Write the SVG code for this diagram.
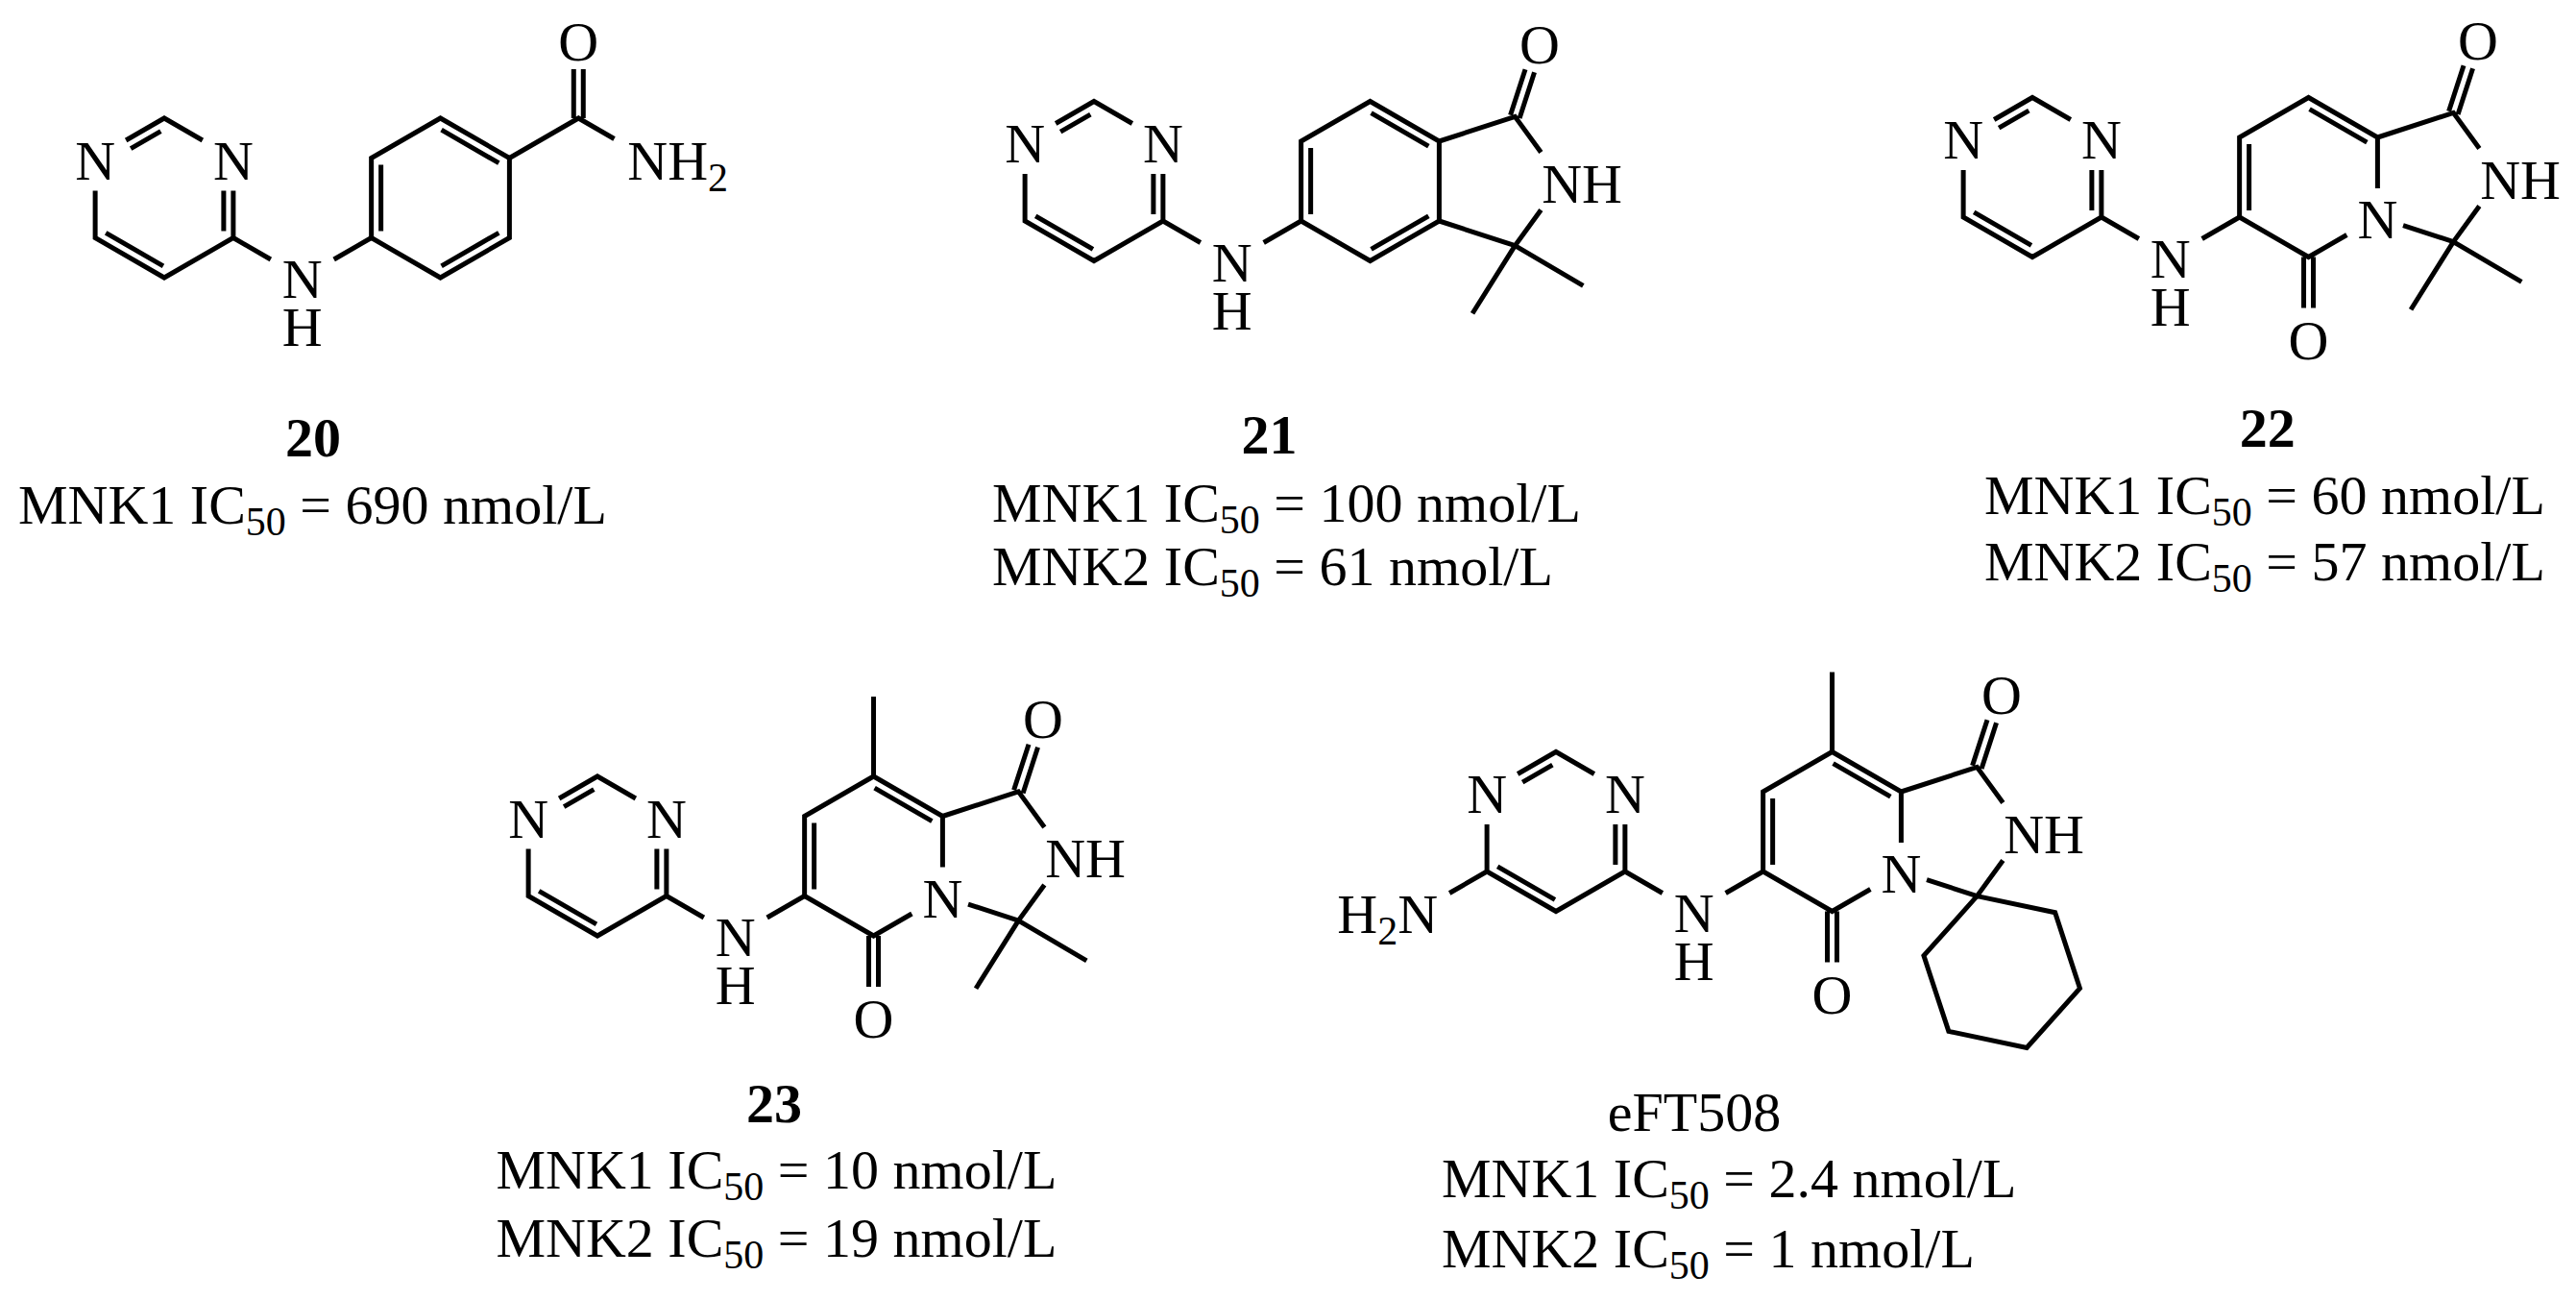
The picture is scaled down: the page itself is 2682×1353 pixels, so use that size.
<svg xmlns="http://www.w3.org/2000/svg" width="2682" height="1353" viewBox="0 0 2682 1353">
<style>
.b{stroke:#000;stroke-width:5;fill:none;stroke-linejoin:miter;stroke-linecap:butt}
.t{font-family:"Liberation Serif","Times New Roman",serif;font-size:58px;fill:#000}
.m{text-anchor:middle}
.e{text-anchor:end}
.bd{font-weight:bold}
.s{font-size:42px}
</style>
<rect width="2682" height="1353" fill="#fff"/>

<!-- Compound 20 -->
<g id="cmpd20">
<g transform="translate(171,206)">
<path class="b" d="M-39.84,-60 L0,-83 L39.84,-60 M-71.88,-7.5 L-71.88,41.5 L0,83 L71.88,41.5 L71.88,-7.5 M-3.66,-69.34 L-34.84,-51.34 M-60.82,36.34 L-1.06,70.84 M61.88,34.5 L61.88,-7.5 M71.88,41.5 L110.85,64 M176.67,64 L215.64,41.5"/>
<path class="b" d="M215.64,41.5 L215.64,-41.5 L287.52,-83 L359.4,-41.5 L359.4,41.5 L287.52,83 Z M225.64,-34.5 L225.64,34.5 M288.58,-70.84 L348.34,-36.34 M348.34,36.34 L288.58,70.84"/>
<path class="b" d="M359.4,-41.5 L431.28,-83 L468.52,-61.5 M426.28,-83 L426.28,-134 M436.28,-83 L436.28,-134"/>
<text class="t m" x="-71.88" y="-19.5">N</text>
<text class="t m" x="71.88" y="-19.5">N</text>
<text class="t m" x="143.76" y="104">N<tspan x="143.76" dy="50">H</tspan></text>
<text class="t m" x="431.28" y="-143">O</text>
<text class="t" x="482.26" y="-19.5">NH<tspan class="s" dy="12">2</tspan></text>
</g>
<text class="t m bd" x="326" y="475">20</text>
<text class="t" x="19" y="544.6">MNK1 IC<tspan class="s" dy="12">50</tspan><tspan dy="-12"> = 690 nmol/L</tspan></text>
</g>

<!-- Compound 21 -->
<g id="cmpd21">
<g transform="translate(1139,188.5)">
<path class="b" d="M-39.84,-60 L0,-83 L39.84,-60 M-71.88,-7.5 L-71.88,41.5 L0,83 L71.88,41.5 L71.88,-7.5 M-3.66,-69.34 L-34.84,-51.34 M-60.82,36.34 L-1.06,70.84 M61.88,34.5 L61.88,-7.5 M71.88,41.5 L110.85,64 M176.67,64 L215.64,41.5"/>
<path class="b" d="M215.64,41.5 L215.64,-41.5 L287.52,-83 L359.4,-41.5 L359.4,41.5 L287.52,83 Z M225.64,-34.5 L225.64,34.5 M288.58,-70.84 L348.34,-36.34 M348.34,36.34 L288.58,70.84"/>
<path class="b" d="M359.4,-41.5 L438.34,-67.15 L465.39,-29.94 M465.37,29.93 L438.34,67.15 L359.4,41.5 M443.1,-65.6 L458.55,-113.15 M433.58,-68.7 L449.03,-116.25 M438.34,67.15 L394.04,137.75 M438.34,67.15 L509.34,108.85"/>
<text class="t m" x="-71.88" y="-19.5">N</text>
<text class="t m" x="71.88" y="-19.5">N</text>
<text class="t m" x="143.76" y="104">N<tspan x="143.76" dy="50">H</tspan></text>
<text class="t m" x="464" y="-123">O</text>
<text class="t" x="466.23" y="22">NH</text>
</g>
<text class="t m bd" x="1321.6" y="471.5">21</text>
<text class="t" x="1033" y="543">MNK1 IC<tspan class="s" dy="12">50</tspan><tspan dy="-12"> = 100 nmol/L</tspan></text>
<text class="t" x="1033" y="609">MNK2 IC<tspan class="s" dy="12">50</tspan><tspan dy="-12"> = 61 nmol/L</tspan></text>
</g>

<!-- Compound 22 -->
<g id="cmpd22">
<g transform="translate(2116,184.5)">
<path class="b" d="M-39.84,-60 L0,-83 L39.84,-60 M-71.88,-7.5 L-71.88,41.5 L0,83 L71.88,41.5 L71.88,-7.5 M-3.66,-69.34 L-34.84,-51.34 M-60.82,36.34 L-1.06,70.84 M61.88,34.5 L61.88,-7.5 M71.88,41.5 L110.85,64 M176.67,64 L215.64,41.5"/>
<path class="b" d="M359.4,11.5 L359.4,-41.5 L287.52,-83 L215.64,-41.5 L215.64,41.5 L287.52,83 L327.36,60 M225.64,-34.5 L225.64,34.5 M288.58,-70.84 L348.34,-36.34 M282.52,83 L282.52,136 M292.52,83 L292.52,136"/>
<path class="b" d="M359.4,-41.5 L438.34,-67.15 L465.39,-29.94 M465.37,29.93 L438.34,67.15 L386.03,50.15 M443.1,-65.6 L458.55,-113.15 M433.58,-68.7 L449.03,-116.25 M438.34,67.15 L394.04,137.75 M438.34,67.15 L509.34,108.85"/>
<text class="t m" x="-71.88" y="-19.5">N</text>
<text class="t m" x="71.88" y="-19.5">N</text>
<text class="t m" x="143.76" y="104">N<tspan x="143.76" dy="50">H</tspan></text>
<text class="t m" x="359.4" y="63.5">N</text>
<text class="t m" x="287.52" y="189">O</text>
<text class="t m" x="464" y="-123">O</text>
<text class="t" x="466.23" y="22">NH</text>
</g>
<text class="t m bd" x="2360.8" y="465">22</text>
<text class="t" x="2066" y="534.5">MNK1 IC<tspan class="s" dy="12">50</tspan><tspan dy="-12"> = 60 nmol/L</tspan></text>
<text class="t" x="2066" y="604">MNK2 IC<tspan class="s" dy="12">50</tspan><tspan dy="-12"> = 57 nmol/L</tspan></text>
</g>

<!-- Compound 23 -->
<g id="cmpd23">
<g transform="translate(622,891)">
<path class="b" d="M-39.84,-60 L0,-83 L39.84,-60 M-71.88,-7.5 L-71.88,41.5 L0,83 L71.88,41.5 L71.88,-7.5 M-3.66,-69.34 L-34.84,-51.34 M-60.82,36.34 L-1.06,70.84 M61.88,34.5 L61.88,-7.5 M71.88,41.5 L110.85,64 M176.67,64 L215.64,41.5"/>
<path class="b" d="M359.4,11.5 L359.4,-41.5 L287.52,-83 L215.64,-41.5 L215.64,41.5 L287.52,83 L327.36,60 M225.64,-34.5 L225.64,34.5 M288.58,-70.84 L348.34,-36.34 M282.52,83 L282.52,136 M292.52,83 L292.52,136 M287.52,-83 L287.52,-166"/>
<path class="b" d="M359.4,-41.5 L438.34,-67.15 L465.39,-29.94 M465.37,29.93 L438.34,67.15 L386.03,50.15 M443.1,-65.6 L458.55,-113.15 M433.58,-68.7 L449.03,-116.25 M438.34,67.15 L394.04,137.75 M438.34,67.15 L509.34,108.85"/>
<text class="t m" x="-71.88" y="-19.5">N</text>
<text class="t m" x="71.88" y="-19.5">N</text>
<text class="t m" x="143.76" y="104">N<tspan x="143.76" dy="50">H</tspan></text>
<text class="t m" x="359.4" y="63.5">N</text>
<text class="t m" x="287.52" y="189">O</text>
<text class="t m" x="464" y="-123">O</text>
<text class="t" x="466.23" y="22">NH</text>
</g>
<text class="t m bd" x="806" y="1168">23</text>
<text class="t" x="516.5" y="1237">MNK1 IC<tspan class="s" dy="12">50</tspan><tspan dy="-12"> = 10 nmol/L</tspan></text>
<text class="t" x="516.5" y="1307.5">MNK2 IC<tspan class="s" dy="12">50</tspan><tspan dy="-12"> = 19 nmol/L</tspan></text>
</g>

<!-- eFT508 -->
<g id="eFT508">
<g transform="translate(1620,865.5)">
<path class="b" d="M-39.84,-60 L0,-83 L39.84,-60 M-71.88,-7.5 L-71.88,41.5 L0,83 L71.88,41.5 L71.88,-7.5 M-3.66,-69.34 L-34.84,-51.34 M-60.82,36.34 L-1.06,70.84 M61.88,34.5 L61.88,-7.5 M71.88,41.5 L110.85,64 M176.67,64 L215.64,41.5 M-71.88,41.5 L-110.85,64"/>
<path class="b" d="M359.4,11.5 L359.4,-41.5 L287.52,-83 L215.64,-41.5 L215.64,41.5 L287.52,83 L327.36,60 M225.64,-34.5 L225.64,34.5 M288.58,-70.84 L348.34,-36.34 M282.52,83 L282.52,136 M292.52,83 L292.52,136 M287.52,-83 L287.52,-166"/>
<path class="b" d="M359.4,-41.5 L438.34,-67.15 L465.39,-29.94 M465.37,29.93 L438.34,67.15 L386.03,50.15 M443.1,-65.6 L458.55,-113.15 M433.58,-68.7 L449.03,-116.25"/>
<polygon class="b" points="438.34,67.15 519.64,84.25 545.44,163.05 490.14,224.95 408.84,207.85 382.94,129.15"/>
<text class="t m" x="-71.88" y="-19.5">N</text>
<text class="t m" x="71.88" y="-19.5">N</text>
<text class="t e" x="-122.86" y="105">H<tspan class="s" dy="12">2</tspan><tspan dy="-12">N</tspan></text>
<text class="t m" x="143.76" y="104">N<tspan x="143.76" dy="50">H</tspan></text>
<text class="t m" x="359.4" y="63.5">N</text>
<text class="t m" x="287.52" y="189">O</text>
<text class="t m" x="464" y="-123">O</text>
<text class="t" x="466.23" y="22">NH</text>
</g>
<text class="t m" x="1764" y="1177">eFT508</text>
<text class="t" x="1501" y="1245.7">MNK1 IC<tspan class="s" dy="12">50</tspan><tspan dy="-12"> = 2.4 nmol/L</tspan></text>
<text class="t" x="1501" y="1318.6">MNK2 IC<tspan class="s" dy="12">50</tspan><tspan dy="-12"> = 1 nmol/L</tspan></text>
</g>
</svg>
